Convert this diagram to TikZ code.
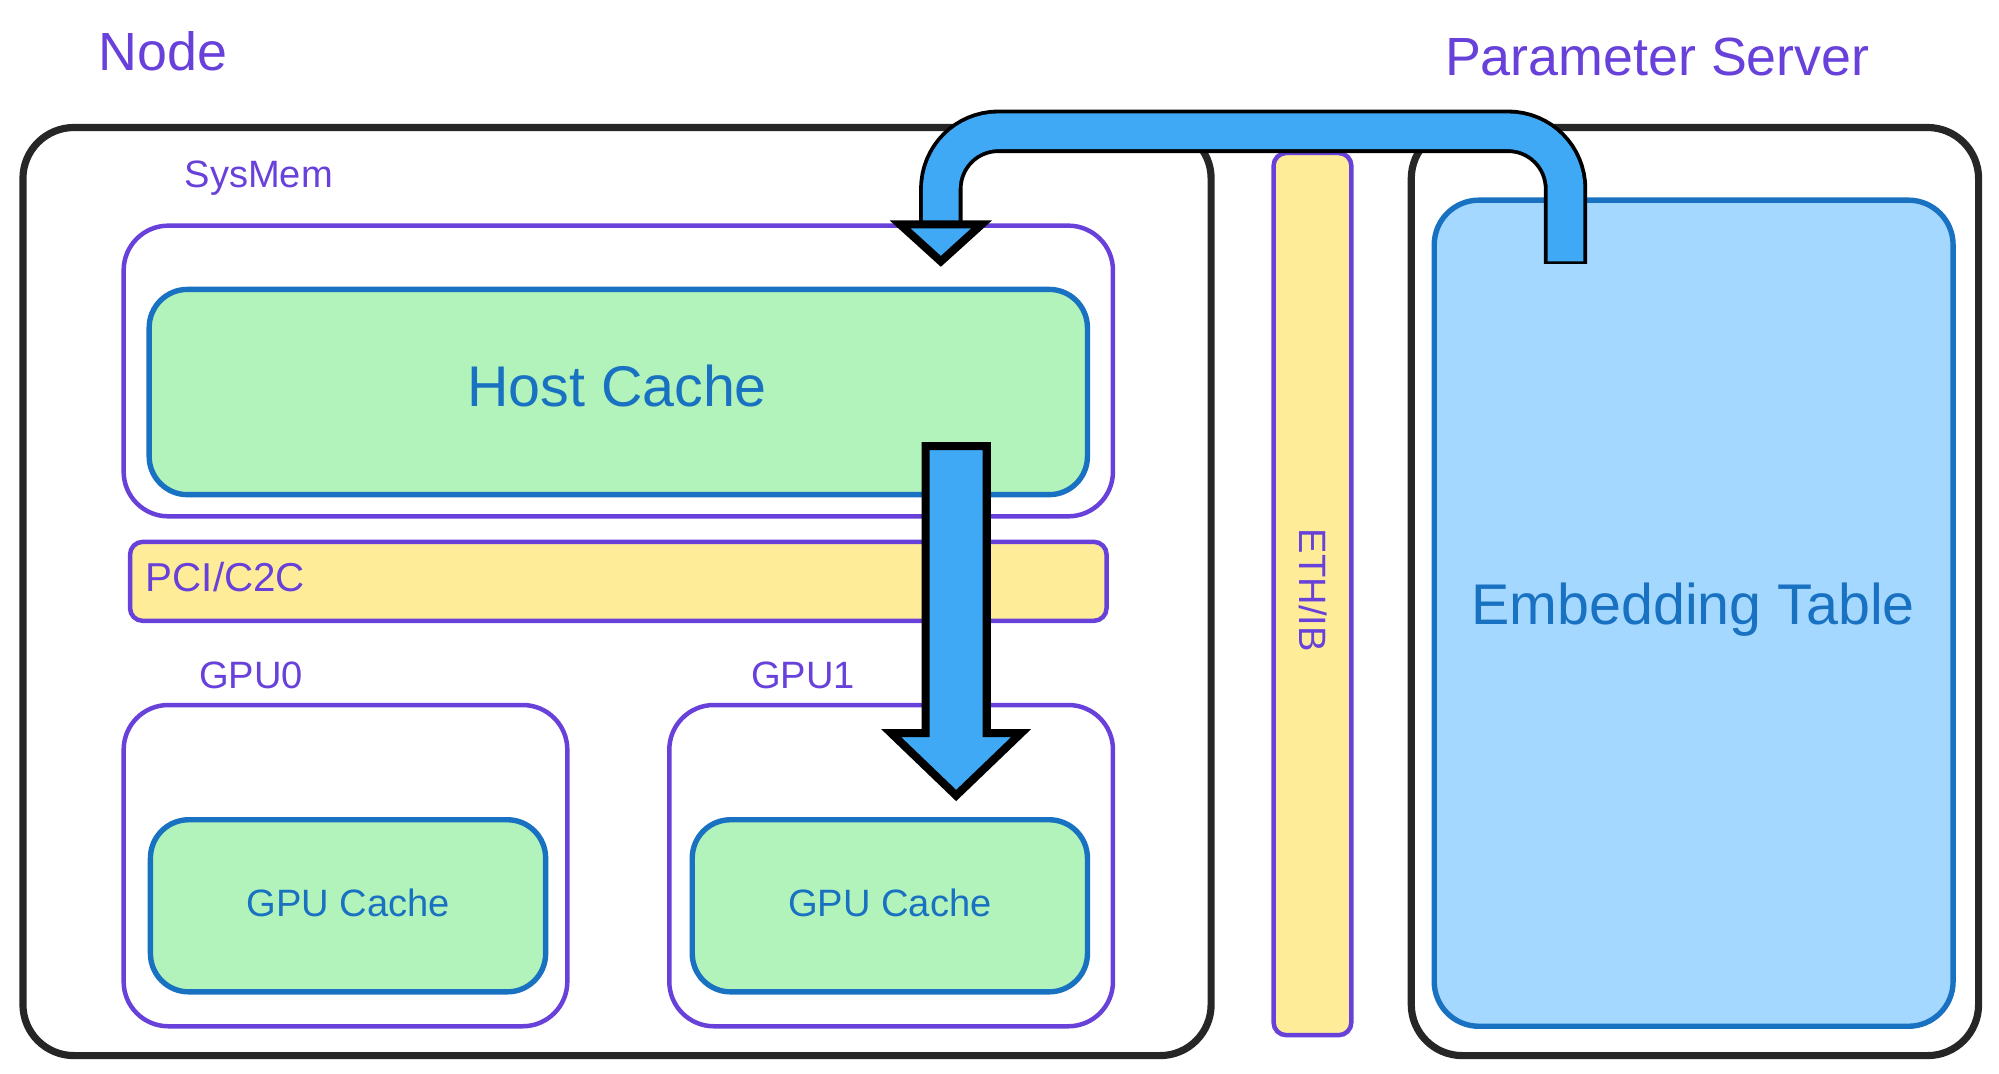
\documentclass[tikz,border=0pt]{standalone}
\usepackage{fontspec}
\setmainfont{Liberation Sans}
\begin{document}
\definecolor{pur}{HTML}{6741D9}
\definecolor{blu}{HTML}{1971C2}
\definecolor{grn}{HTML}{B2F2BB}
\definecolor{yel}{HTML}{FFEC99}
\definecolor{lblu}{HTML}{A5D8FF}
\definecolor{arr}{HTML}{3FA9F5}
\begin{tikzpicture}[x=0.01cm,y=-0.01cm,
 outer/.style={draw=black!85,line width=1.6pt,rounded corners=0.4cm},
 mem/.style={draw=pur,line width=1pt,rounded corners=0.35cm},
 cache/.style={draw=blu,fill=grn,line width=1.2pt,rounded corners=0.3cm},
 bar/.style={draw=pur,fill=yel,line width=1pt,rounded corners=0.1cm},
 lbl/.style={text=pur,font=\fontsize{8.5}{10}\selectfont},
 big/.style={text=pur,font=\fontsize{12}{14}\selectfont},
 ctext/.style={text=blu}]
\useasboundingbox (0,0) rectangle (1568,842);
\node[big] (nodet) at (128,40) {Node};
\node[big] (pst) at (1300,45) {Parameter Server};
\draw[outer] (18,100) rectangle (950,828);
\draw[outer] (1107,100) rectangle (1552,828);
\node[lbl] (sysmem) at (203,140) {SysMem};
\draw[mem] (97,177) rectangle (873,405);
\draw[cache] (117,227) rectangle (853,388);
\node[ctext,font=\fontsize{12.8}{14}\selectfont] (hc) at (484,303) {Host Cache};
\draw[bar] (102,425) rectangle (868,487);
\node[lbl,anchor=west,font=\fontsize{9}{10}\selectfont] (pci) at (102,453) {PCI/C2C};
\node[lbl] (g0) at (197,530) {GPU0};
\draw[mem] (97,553) rectangle (445,805);
\draw[cache] (118,643) rectangle (428,778);
\node[ctext,font=\fontsize{8.5}{10}\selectfont] (gc0) at (273,708) {GPU Cache};
\node[lbl] (g1) at (630,530) {GPU1};
\draw[mem] (525,553) rectangle (873,805);
\draw[cache] (543,643) rectangle (853,778);
\node[ctext,font=\fontsize{8.5}{10}\selectfont] (gc1) at (698,708) {GPU Cache};
\draw[bar] (999,120) rectangle (1060,812);
\node[lbl,rotate=-90] (eth) at (1030,463) {ETH/IB};
\draw[draw=blu,fill=lblu,line width=1.2pt,rounded corners=0.35cm] (1125,157) rectangle (1532,805);
\node[ctext,font=\fontsize{12.8}{14}\selectfont] (et) at (1328,478) {Embedding Table};
% arrow 1
\draw[black,line width=0.34cm,rounded corners=0.45cm] (1228,207) -- (1228,103) -- (738,103) -- (738,178);
\draw[arr,line width=0.28cm,rounded corners=0.45cm] (1228,205) -- (1228,103) -- (738,103) -- (738,182);
\draw[black,fill=arr,line width=1.8pt,line join=miter] (706,176) -- (770,176) -- (738,205) -- cycle;
% arrow 2
\draw[black,fill=arr,line width=1.8pt,line join=miter] (726,350) -- (774,350) -- (774,575) -- (801,575) -- (750,624) -- (699,575) -- (726,575) -- cycle;
\end{tikzpicture}
\end{document}
